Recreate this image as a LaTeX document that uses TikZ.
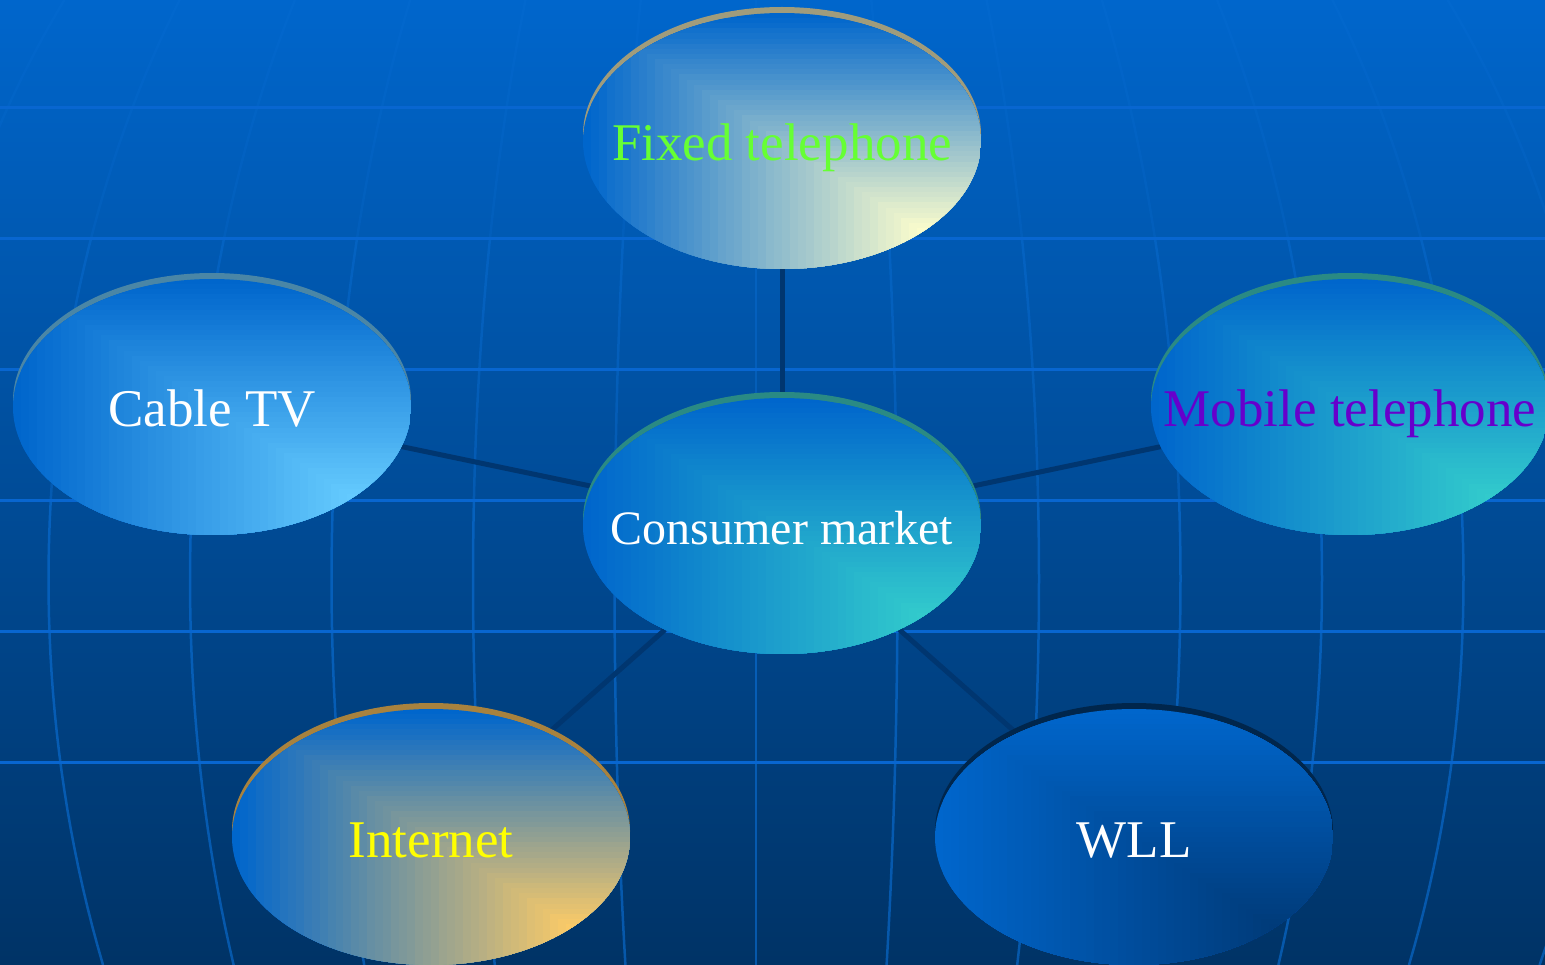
\documentclass[tikz,border=0pt]{standalone}
\usepackage{fontspec}
\setmainfont{Liberation Serif}
\usetikzlibrary{shapes.geometric}

\definecolor{skytop}{HTML}{0066CC}
\definecolor{skybottom}{HTML}{003366}
\definecolor{parallelline}{HTML}{0866D0}
\definecolor{meridianline}{HTML}{0A70D8}
\definecolor{linkline}{HTML}{003670}
\definecolor{cream}{HTML}{FFFFCC}
\definecolor{creamrim}{HTML}{A09C7C}
\definecolor{cablesky}{HTML}{66CCFF}
\definecolor{cablerim}{HTML}{4A86A6}
\definecolor{teal}{HTML}{33CCCC}
\definecolor{tealrim}{HTML}{2A8A84}
\definecolor{gold}{HTML}{FFCC66}
\definecolor{goldrim}{HTML}{A8823E}
\definecolor{wlldeep}{HTML}{003A78}
\definecolor{navyrim}{HTML}{00264C}
\definecolor{fixgreen}{HTML}{66FF33}
\definecolor{mobilepurple}{HTML}{6600CC}
\definecolor{netyellow}{HTML}{FFFF00}

\pgfdeclarelayer{backdrop}
\pgfdeclarelayer{links}
\pgfsetlayers{backdrop,links,main}

\tikzset{
  % corner gradient: nested boxes towards the lower right corner
  bubble/.style n args={3}{ellipse, inner sep=0pt, minimum width=398pt, minimum height=256pt,
    preaction={fill=#3, transform canvas={yshift=6pt}},
    path picture={
      \foreach \c in {0,0.02,...,1.001} {
        \pgfmathtruncatemacro\p{min(100,100*\c/0.85)}
        \fill[#2!\p!#1] ([shift={(-199+398*\c,-128+256*\c)}]path picture bounding box.center)
          rectangle ([shift={(199,128)}]path picture bounding box.center);
      }
    }},
  bubtext/.style={inner sep=0pt, text height=40pt, text depth=0pt, text=#1,
    font=\fontsize{53pt}{60pt}\selectfont},
  smalltext/.style={text height=36pt, font=\fontsize{48pt}{54pt}\selectfont},
  meridian/.style={draw=meridianline, line width=2.5pt},
  parallel/.style={draw=parallelline, line width=3pt},
  link/.style={draw=linkline, line width=5pt}
}

\begin{document}
\begin{tikzpicture}[x=1pt, y=-1pt]
  \useasboundingbox (0,0) rectangle (1545,965);

  % Globe backdrop
  \begin{pgfonlayer}{backdrop}
    \shade[top color=skytop, bottom color=skybottom] (0,0) rectangle (1545,965);
    \begin{scope}
      \clip (0,0) rectangle (1545,965);
      \foreach \from/\to/\op in {0/239/0.2, 239/500/0.4, 500/965/0.6}
        \foreach \k in {-6,...,6}
          \draw[meridian, opacity=\op] plot[domain=\from:\to, samples=25, variable=\t]
            ({756+141.5*\k*sqrt(1-((\t-580)/1000)^2)}, \t);
      \foreach \k in {0,...,5}
        \draw[parallel] (0,108+130.8*\k) -- (1545,108+130.8*\k);
    \end{scope}
  \end{pgfonlayer}

  % Bubbles
  \node[bubble={skytop}{teal}{tealrim}, label={[bubtext=white, smalltext]center:Consumer market}] (market) at (782,526) {};
  \node[bubble={skytop}{cream}{creamrim}, label={[bubtext=fixgreen]center:Fixed telephone}] (fixed) at (782,141) {};
  \node[bubble={skytop}{cablesky}{cablerim}, label={[bubtext=white]center:Cable TV}] (cable) at (212,407) {};
  \node[bubble={skytop}{teal}{tealrim}, label={[bubtext=mobilepurple]center:Mobile telephone}] (mobile) at (1350,407) {};
  \node[bubble={skytop}{gold}{goldrim}, label={[bubtext=netyellow]center:Internet}] (internet) at (431,837) {};
  \node[bubble={skytop}{wlldeep}{navyrim}, label={[bubtext=white]center:WLL}] (wll) at (1134,837) {};

  % Links from the market
  \begin{pgfonlayer}{links}
    \path[link]
      (market) edge (fixed)
      (market) edge (cable)
      (market) edge (mobile)
      (market) edge (internet)
      (market) edge (wll);
  \end{pgfonlayer}

\end{tikzpicture}
\end{document}
